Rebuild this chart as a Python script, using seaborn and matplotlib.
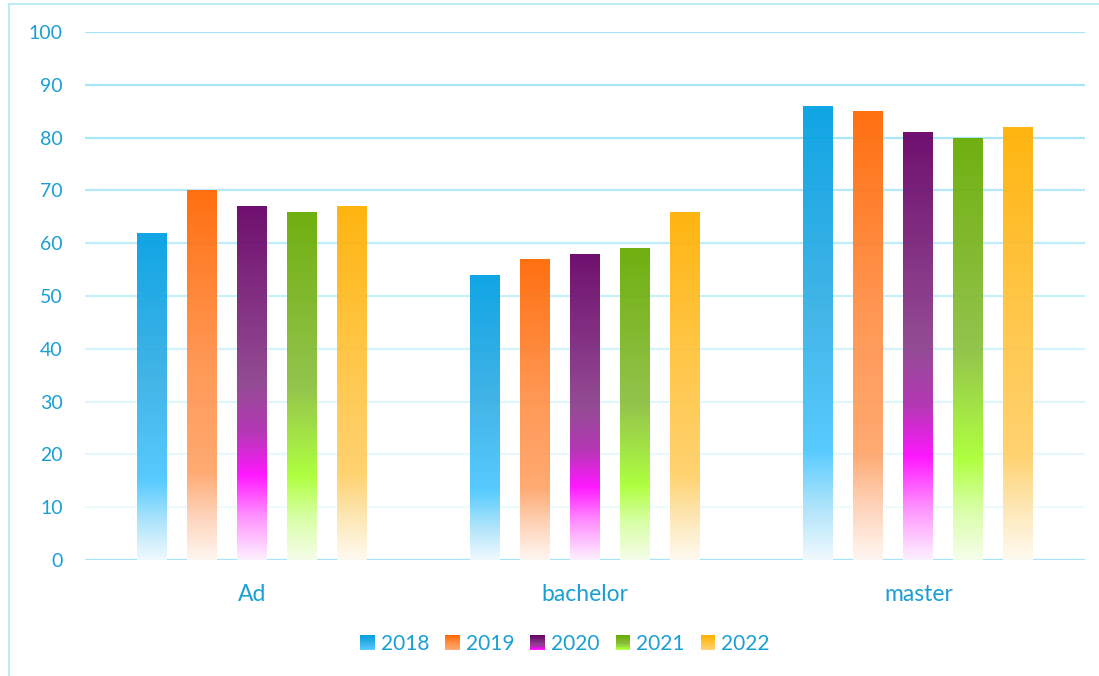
import numpy as np
import pandas as pd
import matplotlib
matplotlib.use("Agg")
import matplotlib.pyplot as plt
import seaborn as sns
from matplotlib.colors import LinearSegmentedColormap
from matplotlib.legend_handler import HandlerBase
from matplotlib.patches import Rectangle, Patch
from matplotlib.lines import Line2D

# ---------------- data ----------------
categories = ["Ad", "bachelor", "master"]
years = ["2018", "2019", "2020", "2021", "2022"]
v2018 = [62, 54, 86]
v2019 = [70, 57, 85]
v2020 = [67, 58, 81]
v2021 = [66, 59, 80]
v2022 = [67, 66, 82]
yticks = [0, 10, 20, 30, 40, 50, 60, 70, 80, 90, 100]

series = {"2018": v2018, "2019": v2019, "2020": v2020, "2021": v2021, "2022": v2022}
df = pd.DataFrame([(c, y, series[y][i]) for y in years for i, c in enumerate(categories)],
                  columns=["level", "year", "value"])

# gradient stops (fraction of bar height from bottom -> colour)
gradients = {
    "2018": [(0.0, "#f0f9fe"), (0.12, "#a6e2fb"), (0.24, "#4dc8ff"), (0.55, "#36b0e6"), (1.0, "#009fe3")],
    "2019": [(0.0, "#fff6f0"), (0.12, "#fed0b4"), (0.24, "#ffa468"), (0.55, "#ff9048"), (1.0, "#ff6600")],
    "2020": [(0.0, "#fdf0fe"), (0.12, "#ff8cff"), (0.24, "#ff08ff"), (0.36, "#b02ab0"), (0.5, "#8c408c"), (1.0, "#660066")],
    "2021": [(0.0, "#f6fde9"), (0.12, "#d6ffa0"), (0.24, "#aaff33"), (0.5, "#8cc040"), (1.0, "#66aa00")],
    "2022": [(0.0, "#fffaf0"), (0.12, "#fde6b0"), (0.24, "#ffd068"), (0.55, "#ffc440"), (1.0, "#ffb000")],
}
cmaps = {y: LinearSegmentedColormap.from_list("g" + y, gradients[y]) for y in years}

text_color = "#1a9fd4"
sns.set_theme(style="white")
plt.rcParams["font.family"] = ["Lato", "DejaVu Sans"]

fig = plt.figure(figsize=(10.99, 6.76), dpi=100)
W, H = 1099, 676
ax = fig.add_axes([85 / W, 1 - 560 / H, 1000 / W, 528 / H])

sns.barplot(data=df, x="level", y="value", hue="year", hue_order=years, order=categories,
            width=0.75, gap=0.4, ax=ax, legend=False, color="white", saturation=1)

# gridlines with fading colours
grid_cols = {100: "#a6e5f8", 90: "#a6e5f8", 80: "#a8e6f8", 70: "#b6eafa", 60: "#bfedfa",
             50: "#c8f0fb", 40: "#d4f3fc", 30: "#dff6fd", 20: "#e7f8fe", 10: "#edfafe", 0: "#a6e5f8"}
for t in yticks:
    ax.axhline(t, color=grid_cols[t], lw=1.6, zorder=0.5)

# gradient fill of bars
for cont, y in zip(ax.containers, years):
    grad = cmaps[y](np.linspace(0, 1, 256))[:, None, :]
    for patch in cont.patches:
        x0, y0 = patch.get_x(), patch.get_y()
        w, h = patch.get_width(), patch.get_height()
        patch.set_facecolor("none")
        patch.set_edgecolor("none")
        im = ax.imshow(grad, extent=[x0, x0 + w, y0, y0 + h], origin="lower",
                       aspect="auto", zorder=2, alpha=0.94, interpolation="bilinear")
        im.set_clip_path(patch)

ax.set_ylim(0, 100)
ax.set_xlim(-0.5, 2.5)
ax.set_yticks(yticks)
ax.set_yticklabels([str(t) for t in yticks])
for s in ax.spines.values():
    s.set_visible(False)
ax.tick_params(axis="both", length=0, colors=text_color)
ax.tick_params(axis="y", pad=16, labelsize=14)
ax.tick_params(axis="x", pad=17, labelsize=16.5)
ax.set_xlabel("")
ax.set_ylabel("")


class HandlerGradient(HandlerBase):
    def __init__(self, cmap):
        super().__init__()
        self.cmap = cmap

    def create_artists(self, legend, orig_handle, xdescent, ydescent, width, height, fontsize, trans):
        n = 20
        arts = []
        for i in range(n):
            c = self.cmap(1 - (i + 0.5) / n * 0.8)
            r = Rectangle((-xdescent, -ydescent + height * (1 - (i + 1) / n)), width, height / n + 0.3,
                          facecolor=c, edgecolor="none", transform=trans)
            arts.append(r)
        return arts


handles = [Patch(label=y) for y in years]
leg = fig.legend(handles=handles, labels=years, loc="center", bbox_to_anchor=(565 / W, 1 - 644 / H),
                 ncol=5, frameon=False, fontsize=15, handlelength=0.7, handleheight=0.7,
                 handletextpad=0.28, columnspacing=0.78,
                 handler_map={h: HandlerGradient(cmaps[y]) for h, y in zip(handles, years)})
for t in leg.get_texts():
    t.set_color(text_color)

# outer border
fig.add_artist(Line2D([8.5 / W, 8.5 / W], [0, 1 - 3.5 / H], color="#b3e8f8", lw=1.2))
fig.add_artist(Line2D([8.5 / W, 1], [1 - 3.5 / H, 1 - 3.5 / H], color="#b3e8f8", lw=1.2))

fig.savefig("out.png", dpi=100)
